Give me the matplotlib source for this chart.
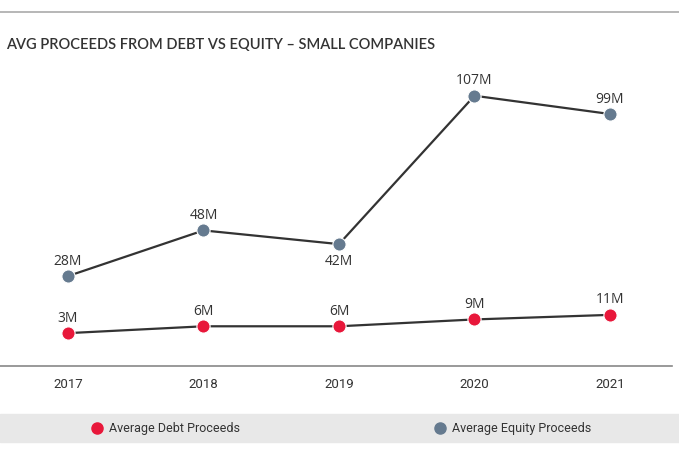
import matplotlib.pyplot as plt
from matplotlib.lines import Line2D
from matplotlib.patches import Rectangle

# data (millions)
years = [2017, 2018, 2019, 2020, 2021]
debt = [3, 6, 6, 9, 11]
equity = [28, 48, 42, 107, 99]
debt_labels = ["3M", "6M", "6M", "9M", "11M"]
equity_labels = ["28M", "48M", "42M", "107M", "99M"]
title = "AVG PROCEEDS FROM DEBT VS EQUITY \u2013 SMALL COMPANIES"

RED = "#e8173a"
BLUE = "#657a8f"
DARK = "#333333"
W, H = 679, 456

narrow = ["Roboto", "DejaVu Sans"]
plt.rcParams["font.family"] = ["Open Sans", "DejaVu Sans"]

fig = plt.figure(figsize=(W / 100, H / 100), dpi=100)
ax = fig.add_axes([0, (H - 367) / H, 672 / W, 307 / H])

for vals, col in [(equity, BLUE), (debt, RED)]:
    ax.plot(years, vals, color=DARK, lw=1.6, zorder=2)
    ax.plot(years, vals, ls="none", marker="o", ms=9.5, mfc=col,
            mec="white", mew=0.8, zorder=3)

for x, v, t in zip(years, equity, equity_labels):
    dy = -12 if t == "42M" else 11.5
    ax.annotate(t, (x, v), xytext=(0, dy), textcoords="offset points",
                ha="center", va="center", fontsize=10, color=DARK)
for x, v, t in zip(years, debt, debt_labels):
    ax.annotate(t, (x, v), xytext=(0, 11.5), textcoords="offset points",
                ha="center", va="center", fontsize=10, color=DARK)

ax.set_xlim(2016.498, 2021.458)
ax.set_ylim(-11.4, 123.1)
ax.set_xticks(years)
ax.set_xticklabels([str(y) for y in years], family=narrow, fontsize=9.5, color=DARK)
ax.tick_params(axis="x", length=0, pad=8)
ax.set_yticks([])
for s in ["top", "left", "right"]:
    ax.spines[s].set_visible(False)
ax.spines["bottom"].set_color("#888888")
ax.spines["bottom"].set_linewidth(1.2)

# top rule and title
fig.add_artist(Line2D([0, 1], [1 - 13 / H, 1 - 13 / H], color="#aaaaaa", lw=1.2))
fig.text(6 / W, 1 - 45 / H, title, fontsize=10.5, fontweight="semibold",
         color=DARK, va="center", family=["Lato", "DejaVu Sans"])

# legend band
fig.add_artist(Rectangle((0, 1 - 443 / H), 1, 28 / H, transform=fig.transFigure,
                         color="#e8e8e8", zorder=0))
for mx, col, lab in [(97, RED, "Average Debt Proceeds"), (440, BLUE, "Average Equity Proceeds")]:
    fig.add_artist(Line2D([mx / W], [1 - 429 / H], marker="o", ms=8, color=col,
                          mec=col, ls="none"))
    fig.text((mx + 12) / W, 1 - 429 / H, lab, fontsize=9, color=DARK,
             va="center", family=narrow)

fig.savefig("out.png", dpi=100)
